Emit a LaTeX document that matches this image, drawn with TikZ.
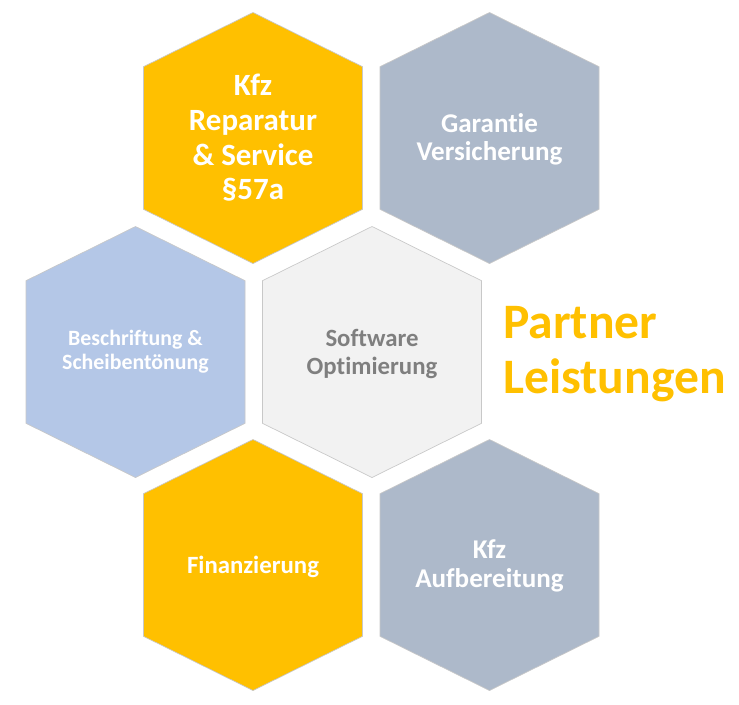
\documentclass[tikz,border=0pt]{standalone}
\usepackage{fontspec}
\setmainfont{Carlito}[Ligatures=NoCommon]
\definecolor{hyellow}{HTML}{FFC000}
\definecolor{hgrey}{HTML}{ADB9CA}
\definecolor{hblue}{HTML}{B4C7E7}
\definecolor{hlight}{HTML}{F2F2F2}
\definecolor{htextgrey}{HTML}{7F7F7F}
\definecolor{hedge}{HTML}{C8C8C8}
\begin{document}
\begin{tikzpicture}[x=0.75pt,y=-0.75pt,
  hexa/.pic={\path[pic actions] (109.5,-71.3)--(0,-125.5)--(-109.5,-71.3)--(-109.5,71.3)--(0,125.5)--(109.5,71.3)--cycle;},
  hexbox/.style={draw=hedge,line width=0.5pt},
  label/.style={align=center,inner sep=0pt,font=\bfseries},
  big/.style={font=\bfseries\fontsize{23.2pt}{26pt}\selectfont},
  mid/.style={font=\bfseries\fontsize{20.3pt}{21.2pt}\selectfont},
  midc/.style={font=\bfseries\fontsize{18.6pt}{20.8pt}\selectfont},
  small/.style={font=\bfseries\fontsize{16.4pt}{18pt}\selectfont},
  title/.style={anchor=base west,inner sep=0pt,text=hyellow,font=\bfseries\fontsize{37.2pt}{41pt}\selectfont}]
\useasboundingbox[fill=white] (0,0) rectangle (739,704);
\pic (hexTL) [hexbox,fill=hyellow] at (253,138) {hexa};
\pic (hexTR) [hexbox,fill=hgrey] at (489.5,138) {hexa};
\pic (hexML) [hexbox,fill=hblue] at (135.5,352) {hexa};
\pic (hexC) [hexbox,fill=hlight] at (372,352) {hexa};
\pic (hexBL) [hexbox,fill=hyellow] at (253,565) {hexa};
\pic (hexBR) [hexbox,fill=hgrey] at (489.5,565) {hexa};
\node (tTL) [label,big,text=white] at (253,138) {Kfz\\Reparatur\\\& Service\\§57a};
\node (tTR) [label,mid,text=white] at (489.5,139) {Garantie\\Versicherung};
\node (tML) [label,small,text=white] at (135.5,352) {Beschriftung \&\\Scheibentönung};
\node (tC) [label,midc,text=htextgrey] at (372,354) {Software\\Optimierung};
\node (tBL) [label,midc,text=white] at (253,567) {Finanzierung};
\node (tBR) [label,mid,text=white] at (489.5,566) {Kfz\\Aufbereitung};
\node (partner) [title] at (503,338) {Partner};
\node (leist) [title] at (503,393) {Leistungen};
\end{tikzpicture}
\end{document}
